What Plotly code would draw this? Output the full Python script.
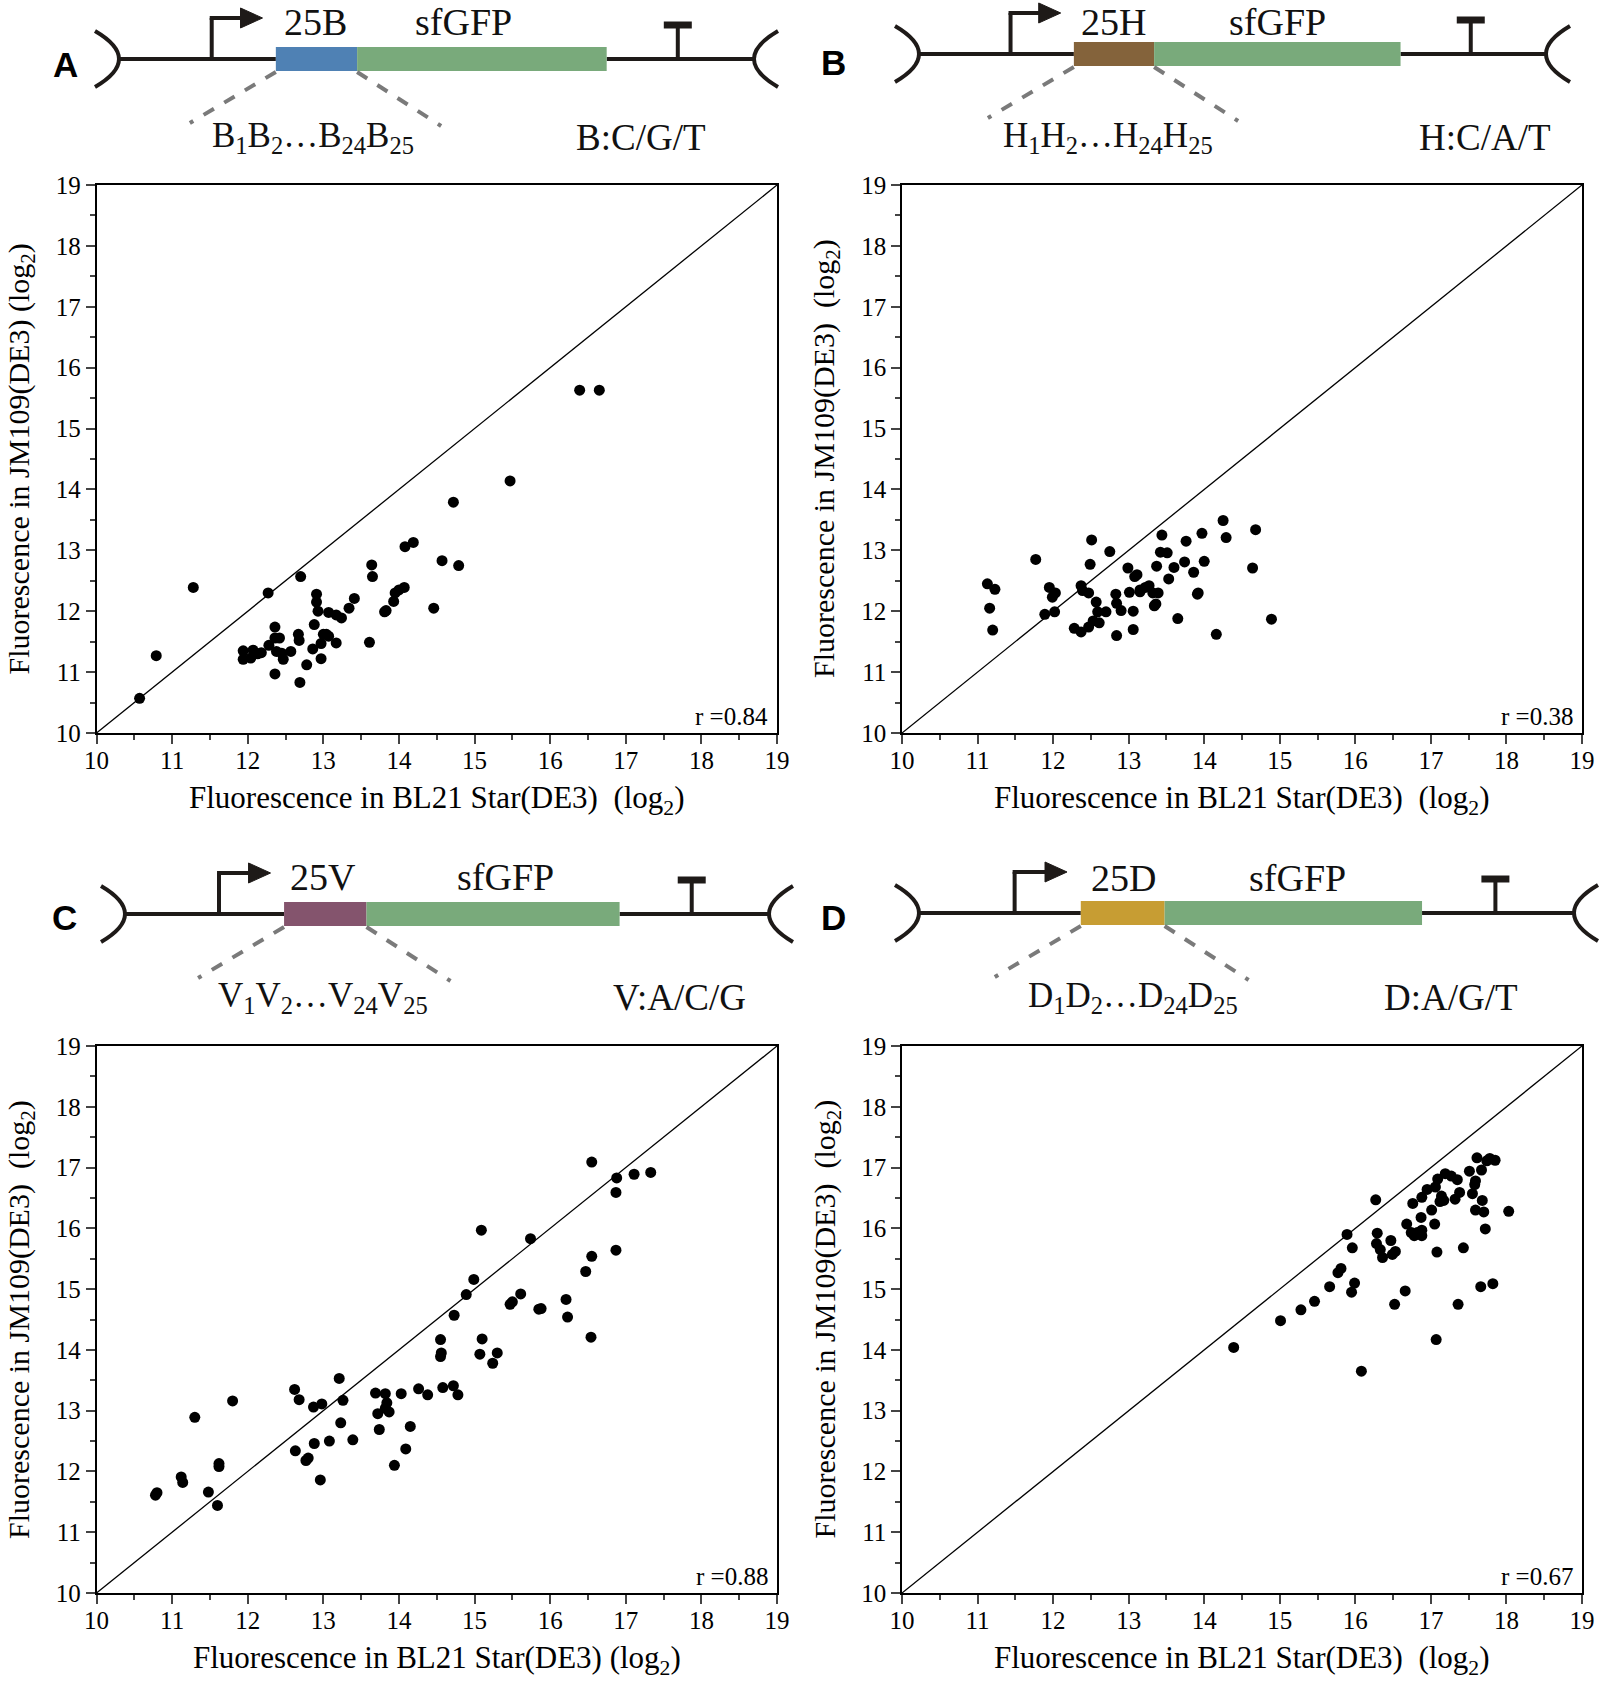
import plotly.graph_objects as go

# ---- data (log2 fluorescence) ----
a_bl21 = [10.57, 10.79, 11.28, 12.27, 12.70, 11.94, 11.94, 12.04, 12.07, 12.13, 12.18, 12.28,
          12.36, 12.36, 12.42, 12.38, 12.45, 12.47, 12.36, 12.57, 12.67, 12.68, 12.69, 12.78,
          12.86, 12.88, 12.91, 12.91, 12.93, 12.97, 12.97, 13.00, 13.04, 13.07, 13.07, 13.17,
          13.17, 13.24, 13.34, 13.41, 13.61, 13.64, 13.65, 13.81, 13.83, 13.93, 13.95, 14.00,
          14.07, 14.08, 14.19, 14.46, 14.57, 14.72, 14.79, 15.47, 16.39, 16.65]
a_jm109 = [10.57, 11.27, 12.39, 12.30, 12.57, 11.35, 11.21, 11.23, 11.36, 11.30, 11.32, 11.44,
           11.74, 11.56, 11.56, 11.34, 11.31, 11.21, 10.97, 11.34, 11.62, 11.52, 10.83, 11.12,
           11.38, 11.78, 12.28, 12.15, 12.00, 11.47, 11.22, 11.62, 11.62, 11.59, 11.98, 11.94,
           11.48, 11.89, 12.05, 12.21, 11.49, 12.76, 12.57, 11.99, 12.01, 12.16, 12.30, 12.35,
           12.39, 13.06, 13.13, 12.05, 12.83, 13.79, 12.75, 14.14, 15.63, 15.63]

b_bl21 = [11.13, 11.16, 11.20, 11.23, 11.77, 11.89, 11.95, 11.99, 12.03, 12.02, 12.28, 12.37,
          12.39, 12.37, 12.47, 12.47, 12.49, 12.51, 12.53, 12.57, 12.59, 12.61, 12.70, 12.75,
          12.83, 12.84, 12.84, 12.90, 12.99, 13.01, 13.06, 13.06, 13.08, 13.11, 13.15, 13.15,
          13.22, 13.27, 13.32, 13.34, 13.36, 13.37, 13.39, 13.42, 13.44, 13.51, 13.53, 13.60,
          13.65, 13.74, 13.76, 13.86, 13.91, 13.92, 13.97, 14.00, 14.16, 14.25, 14.29, 14.64,
          14.68, 14.89]
b_jm109 = [12.45, 12.05, 11.69, 12.36, 12.85, 11.95, 12.39, 12.23, 12.30, 11.99, 11.72, 12.42,
           12.34, 11.66, 12.30, 11.74, 12.77, 13.17, 11.84, 12.15, 11.99, 11.81, 11.99, 12.98,
           12.28, 11.60, 12.13, 12.01, 12.71, 12.31, 12.00, 11.70, 12.57, 12.60, 12.35, 12.32,
           12.39, 12.42, 12.30, 12.09, 12.12, 12.74, 12.30, 12.97, 13.25, 12.96, 12.53, 12.72,
           11.88, 12.81, 13.15, 12.64, 12.28, 12.30, 13.28, 12.82, 11.62, 13.49, 13.21, 12.71,
           13.34, 11.87]

c_bl21 = [10.78, 10.80, 11.12, 11.14, 11.30, 11.48, 11.60, 11.62, 11.62, 11.80, 12.62, 12.63,
          12.68, 12.77, 12.80, 12.87, 12.88, 12.96, 12.98, 13.08, 13.21, 13.23, 13.26, 13.39,
          13.69, 13.72, 13.74, 13.82, 13.84, 13.82, 13.87, 13.94, 14.03, 14.09, 14.15, 14.26,
          14.38, 14.55, 14.56, 14.55, 14.58, 14.72, 14.73, 14.78, 14.89, 14.99, 15.07, 15.09,
          15.10, 15.24, 15.30, 15.47, 15.50, 15.61, 15.74, 15.85, 15.88, 16.21, 16.23, 16.47,
          16.55, 16.54, 16.55, 16.87, 16.87, 16.88, 17.11, 17.33]
c_jm109 = [11.61, 11.65, 11.91, 11.82, 12.89, 11.66, 11.44, 12.08, 12.13, 13.16, 13.35, 12.34,
           13.18, 12.18, 12.22, 13.06, 12.46, 11.86, 13.11, 12.50, 13.53, 12.80, 13.17, 12.52,
           13.29, 12.95, 12.69, 13.28, 13.13, 13.04, 12.98, 12.10, 13.28, 12.37, 12.74, 13.36,
           13.26, 13.89, 13.95, 14.17, 13.38, 13.41, 14.57, 13.26, 14.91, 15.16, 13.93, 15.97,
           14.18, 13.78, 13.95, 14.75, 14.79, 14.92, 15.83, 14.67, 14.68, 14.83, 14.54, 15.29,
           15.54, 14.21, 17.09, 15.64, 16.59, 16.83, 16.89, 16.92]

d_bl21 = [14.39, 15.01, 15.28, 15.46, 15.66, 15.77, 15.81, 15.89, 15.95, 15.96, 15.99, 16.08,
          16.27, 16.28, 16.29, 16.33, 16.36, 16.47, 16.49, 16.53, 16.52, 16.66, 16.68, 16.74,
          16.76, 16.78, 16.82, 16.87, 16.88, 16.88, 16.88, 16.95, 17.01, 17.05, 17.06, 17.07,
          17.08, 17.09, 17.12, 17.14, 17.17, 17.19, 17.27, 17.32, 17.35, 17.36, 17.38, 17.43,
          17.51, 17.55, 17.58, 17.59, 17.59, 17.61, 17.66, 17.67, 17.68, 17.70, 17.72, 17.74,
          17.78, 17.82, 17.85, 18.03]
d_jm109 = [14.04, 14.48, 14.66, 14.80, 15.04, 15.27, 15.34, 15.90, 14.95, 15.68, 15.10, 13.65,
           16.47, 15.75, 15.92, 15.65, 15.52, 15.80, 15.57, 15.62, 14.75, 14.97, 16.07, 15.93,
           16.41, 15.88, 15.93, 16.18, 16.51, 15.97, 15.88, 16.64, 16.30, 16.07, 16.68, 14.17,
           15.61, 16.81, 16.44, 16.53, 16.46, 16.90, 16.86, 16.48, 16.80, 14.75, 16.59, 15.68,
           16.94, 16.57, 16.72, 16.78, 16.30, 17.16, 15.04, 16.96, 16.46, 16.27, 15.99, 17.11,
           17.15, 15.09, 17.12, 16.28]

r_values = ["0.84", "0.38", "0.88", "0.67"]
diag = [10, 19]
tick_vals = list(range(10, 20))

W, H = 1600, 1684
SERIF = "Liberation Serif"
SP2 = "\u00a0\u00a0"

x_titles = [
    f"Fluorescence in BL21 Star(DE3){SP2}(log<sub>2</sub>)",
    f"Fluorescence in BL21 Star(DE3){SP2}(log<sub>2</sub>)",
    "Fluorescence in BL21 Star(DE3) (log<sub>2</sub>)",
    f"Fluorescence in BL21 Star(DE3){SP2}(log<sub>2</sub>)",
]
y_titles = [
    "Fluorescence in JM109(DE3) (log<sub>2</sub>)",
    f"Fluorescence in JM109(DE3){SP2}(log<sub>2</sub>)",
    f"Fluorescence in JM109(DE3){SP2}(log<sub>2</sub>)",
    f"Fluorescence in JM109(DE3){SP2}(log<sub>2</sub>)",
]

# plot areas in pixels: (left, right, top, bottom)
boxes = [(96.5, 777, 185, 733), (902, 1582, 185, 733),
         (96.5, 777, 1046, 1593), (902, 1582, 1046, 1593)]

panels = [(a_bl21, a_jm109), (b_bl21, b_jm109), (c_bl21, c_jm109), (d_bl21, d_jm109)]


def px(x):
    return x / W


def py(y):
    return 1 - y / H


fig = go.Figure()
layout = dict(width=W, height=H, margin=dict(l=0, r=0, t=0, b=0),
              paper_bgcolor="white", plot_bgcolor="white", showlegend=False,
              font=dict(family=SERIF, color="black"))
annotations = []
shapes = []

for i, ((xs, ys), (l, r, t, b)) in enumerate(zip(panels, boxes)):
    n = "" if i == 0 else str(i + 1)
    xa, ya = "x" + n, "y" + n
    fig.add_trace(go.Scatter(x=diag, y=diag, mode="lines", xaxis=xa, yaxis=ya,
                             line=dict(color="black", width=1.3), hoverinfo="skip"))
    fig.add_trace(go.Scatter(x=xs, y=ys, mode="markers", xaxis=xa, yaxis=ya,
                             marker=dict(color="black", size=11)))
    ax = dict(range=[10, 19], tickvals=tick_vals, ticks="outside", ticklen=9, tickwidth=1.5,
              showline=True, linewidth=1.5, linecolor="black", mirror=True, showgrid=False,
              zeroline=False, automargin=False, tickfont=dict(family=SERIF, size=25),
              minor=dict(dtick=0.5, ticks="outside", ticklen=5, tickwidth=1.5, showgrid=False))
    layout["xaxis" + n] = dict(ax, domain=[px(l), px(r)], anchor=ya, ticklabelstandoff=-5)
    layout["yaxis" + n] = dict(ax, domain=[py(b), py(t)], anchor=xa, ticklabelstandoff=0)
    annotations.append(dict(text=x_titles[i], xref=xa + " domain", yref=ya + " domain",
                            x=0.5, y=0, yshift=-67, showarrow=False, xanchor="center",
                            yanchor="middle", font=dict(size=31)))
    annotations.append(dict(text=y_titles[i], xref=xa + " domain", yref=ya + " domain",
                            x=0, xshift=-76, y=0.5, textangle=-90, showarrow=False,
                            xanchor="center", yanchor="middle", font=dict(size=30)))
    annotations.append(dict(text="r =" + r_values[i], xref=xa + " domain", yref=ya + " domain",
                            x=0.99, y=0.03, showarrow=False, xanchor="right",
                            yanchor="middle", font=dict(size=25)))

# ---- construct diagrams above each panel ----
constructs = [
    dict(tag="A", ins="25B", base="B", alpha="B:C/G/T", color="#4f81b4", xb=119, yb=59, L=635,
         ty_top=22, ty_bot=137, x_ins=315, x_gfp=464, x_seq=313, x_alpha=641, lab=(65, 65)),
    dict(tag="B", ins="25H", base="H", alpha="H:C/A/T", color="#84633b", xb=919, yb=54, L=627,
         ty_top=22, ty_bot=138, x_ins=1113, x_gfp=1277, x_seq=1108, x_alpha=1485, lab=(833, 62)),
    dict(tag="C", ins="25V", base="V", alpha="V:A/C/G", color="#84546d", xb=125, yb=914, L=644,
         ty_top=877, ty_bot=997, x_ins=323, x_gfp=505, x_seq=323, x_alpha=679, lab=(64, 917)),
    dict(tag="D", ins="25D", base="D", alpha="D:A/G/T", color="#c79d33", xb=919, yb=913, L=655,
         ty_top=878, ty_bot=997, x_ins=1123, x_gfp=1297, x_seq=1133, x_alpha=1451, lab=(833, 917)),
]

BLACK = "#1e1a18"
GREEN = "#79aa7b"


def seg(x0, y0, x1, y1, color=BLACK, width=4, dash=None):
    shapes.append(dict(type="line", xref="paper", yref="paper", x0=px(x0), y0=py(y0),
                       x1=px(x1), y1=py(y1), line=dict(color=color, width=width, dash=dash)))


def path(d, width=4, fill=None):
    shapes.append(dict(type="path", xref="paper", yref="paper", path=d,
                       line=dict(color=BLACK, width=width),
                       fillcolor=fill if fill else "rgba(0,0,0,0)"))


def pt(x, y):
    return f"{px(x):.5f},{py(y):.5f}"


for c in constructs:
    xb, yb, L = c["xb"], c["yb"], c["L"]
    xr = xb + L
    b0, b1, g1 = xb + 0.247 * L, xb + 0.375 * L, xb + 0.768 * L
    xp, tip, xt = xb + 0.146 * L, xb + 0.226 * L, xb + 0.880 * L
    # brackets
    path(f"M {pt(xb - 24, yb - 28)} Q {pt(xb + 24, yb)} {pt(xb - 24, yb + 28)}", width=4)
    path(f"M {pt(xr + 24, yb - 28)} Q {pt(xr - 24, yb)} {pt(xr + 24, yb + 28)}", width=4)
    # backbone
    seg(xb, yb, b0, yb)
    seg(g1, yb, xr, yb)
    # promoter arrow
    ptop = yb - 41
    seg(xp, yb, xp, ptop)
    seg(xp - 2, ptop, tip - 18, ptop)
    path(f"M {pt(tip - 22, ptop - 10)} L {pt(tip, ptop)} L {pt(tip - 22, ptop + 10)} Z",
         width=1, fill=BLACK)
    # terminator
    seg(xt, yb, xt, yb - 33)
    seg(xt - 14, yb - 34, xt + 14, yb - 34, width=7)
    # insert and sfGFP blocks
    shapes.append(dict(type="rect", xref="paper", yref="paper", x0=px(b0), x1=px(b1),
                       y0=py(yb + 12), y1=py(yb - 12), fillcolor=c["color"], line=dict(width=0)))
    shapes.append(dict(type="rect", xref="paper", yref="paper", x0=px(b1), x1=px(g1),
                       y0=py(yb + 12), y1=py(yb - 12), fillcolor=GREEN, line=dict(width=0)))
    # dashed zoom lines
    seg(b0, yb + 13, b0 - 86, yb + 64, color="#7a7a7a", width=4, dash="dash")
    seg(b1, yb + 13, b1 + 84, yb + 67, color="#7a7a7a", width=4, dash="dash")
    # labels
    k = c["base"]
    seq = f"{k}<sub>1</sub>{k}<sub>2</sub>…{k}<sub>24</sub>{k}<sub>25</sub>"
    for txt, x, y, size in [(c["ins"], c["x_ins"], c["ty_top"], 38),
                            ("sfGFP", c["x_gfp"], c["ty_top"], 38),
                            (seq, c["x_seq"], c["ty_bot"], 35),
                            (c["alpha"], c["x_alpha"], c["ty_bot"], 37)]:
        annotations.append(dict(text=txt, xref="paper", yref="paper", x=px(x), y=py(y),
                                xanchor="center", yanchor="middle", showarrow=False,
                                font=dict(family=SERIF, size=size, color="#111")))
    annotations.append(dict(text=f"<b>{c['tag']}</b>", xref="paper", yref="paper",
                            x=px(c["lab"][0]), y=py(c["lab"][1]), xanchor="center",
                            yanchor="middle", showarrow=False,
                            font=dict(family="Liberation Sans", size=35, color="black")))

layout["annotations"] = annotations
layout["shapes"] = shapes
fig.update_layout(**layout)
# drop the browser's default 8px body margin so the figure fills the window exactly
fig.write_html("out.html", config={"displayModeBar": False},
               post_script="document.body.style.margin='0';")
